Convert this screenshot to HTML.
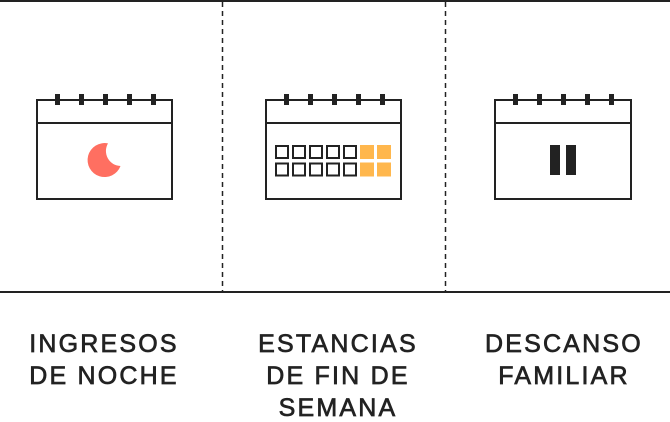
<!DOCTYPE html>
<html><head><meta charset="utf-8"><style>
html,body{margin:0;padding:0;background:#fff;}
svg{display:block;}
text{font-family:"Liberation Sans",sans-serif;font-size:25px;fill:#222;stroke:#222;stroke-width:0.7px;letter-spacing:2.2px;text-anchor:middle;}
</style></head><body>
<svg width="670" height="422" viewBox="0 0 670 422" xmlns="http://www.w3.org/2000/svg">
<line x1="0" y1="1" x2="670" y2="1" stroke="#222" stroke-width="2"/>
<line x1="0" y1="292" x2="670" y2="292" stroke="#222" stroke-width="2"/>
<line x1="222.5" y1="2" x2="222.5" y2="291" stroke="#222" stroke-width="1.5" stroke-dasharray="5,4"/>
<line x1="445.5" y1="2" x2="445.5" y2="291" stroke="#222" stroke-width="1.5" stroke-dasharray="5,4"/>
<g fill="none" stroke="#222" stroke-width="2">
<rect x="37" y="100" width="135" height="99"/><line x1="37" y1="123" x2="172" y2="123"/>
<rect x="266" y="100" width="135" height="99"/><line x1="266" y1="123" x2="401" y2="123"/>
<rect x="495" y="100" width="136" height="99"/><line x1="495" y1="123" x2="631" y2="123"/>
</g>
<g fill="#222">
<rect x="55" y="94" width="5" height="11"/><rect x="79" y="94" width="5" height="11"/><rect x="103" y="94" width="5" height="11"/><rect x="127" y="94" width="5" height="11"/><rect x="151" y="94" width="5" height="11"/>
<rect x="284" y="94" width="5" height="11"/><rect x="308" y="94" width="5" height="11"/><rect x="332" y="94" width="5" height="11"/><rect x="356" y="94" width="5" height="11"/><rect x="380" y="94" width="5" height="11"/>
<rect x="513" y="94" width="5" height="11"/><rect x="537" y="94" width="5" height="11"/><rect x="561" y="94" width="5" height="11"/><rect x="585" y="94" width="5" height="11"/><rect x="609" y="94" width="5" height="11"/>
<rect x="550" y="145" width="10" height="30"/><rect x="566" y="145" width="10" height="30"/>
</g>
<path d="M 108 143.4 A 17 17 0 1 0 120.5 166 A 15 15 0 0 1 108 143.4 Z" fill="#ff6f61"/>
<g fill="none" stroke="#222" stroke-width="2">
<rect x="276" y="146" width="12" height="12"/><rect x="293" y="146" width="12" height="12"/><rect x="310" y="146" width="12" height="12"/><rect x="327" y="146" width="12" height="12"/><rect x="344" y="146" width="12" height="12"/>
<rect x="276" y="163.5" width="12" height="12"/><rect x="293" y="163.5" width="12" height="12"/><rect x="310" y="163.5" width="12" height="12"/><rect x="327" y="163.5" width="12" height="12"/><rect x="344" y="163.5" width="12" height="12"/>
</g>
<g fill="#ffb74d">
<rect x="360" y="145" width="14" height="14"/><rect x="377" y="145" width="14" height="14"/>
<rect x="360" y="162.5" width="14" height="14"/><rect x="377" y="162.5" width="14" height="14"/>
</g>
<text x="104" y="352">INGRESOS</text><text x="104" y="384">DE NOCHE</text>
<text x="338" y="352">ESTANCIAS</text><text x="338" y="384">DE FIN DE</text><text x="338" y="416">SEMANA</text>
<text x="564" y="352">DESCANSO</text><text x="564" y="384">FAMILIAR</text>
</svg>
</body></html>
